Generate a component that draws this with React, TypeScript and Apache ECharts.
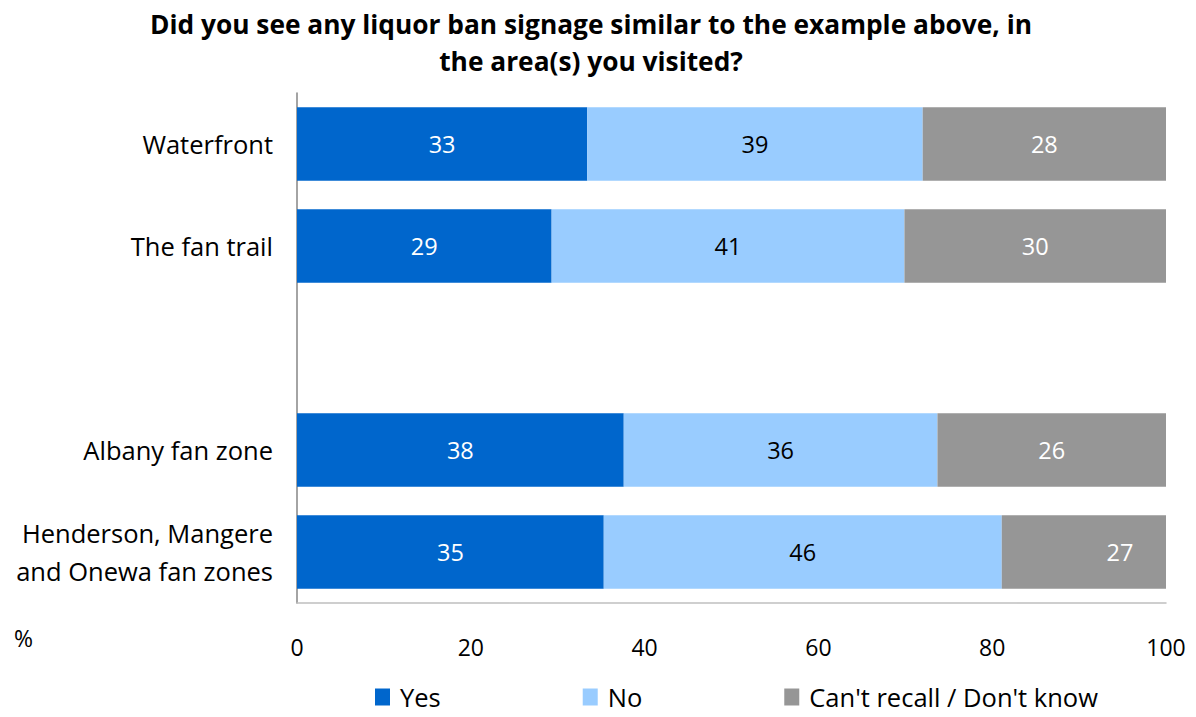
import React, { useEffect, useRef } from "react";
import * as echarts from "echarts";

const categories = [
  "Waterfront",
  "The fan trail",
  "",
  "Albany fan zone",
  "Henderson, Mangere\nand Onewa fan zones",
];
const seriesNames = ["Yes", "No", "Can't recall / Don't know"];
const yesValues: (number | null)[] = [33.4, 29.3, null, 37.6, 35.3];
const noValues: (number | null)[] = [38.6, 40.6, null, 36.1, 45.8];
const dkValues: (number | null)[] = [28.0, 30.1, null, 26.3, 27.0];
const xTickMin = 0;
const xTickMax = 100;
const xTickStep = 20;
const titleText =
  "Did you see any liquor ban signage similar to the example above, in\nthe area(s) you visited?";
const unitLabel = "%";

const FONT = "'Open Sans', sans-serif";
const colors = ["#0066CC", "#99CCFF", "#969696"];
const labelColors = ["#FFFFFF", "#000000", "#FFFFFF"];

export default function App() {
  const ref = useRef<HTMLDivElement>(null);
  useEffect(() => {
    if (!ref.current) return;
    const chart = echarts.init(ref.current, null, { renderer: "svg" });
    const toData = (arr: (number | null)[]) => arr.map((v) => (v == null ? "-" : v));
    const dkData: any[] = toData(dkValues).map((v, i) =>
      i === 4 ? { value: v, label: { offset: [36, 0] } } : v
    );
    const allData = [toData(yesValues), toData(noValues), dkData];
    const series = seriesNames.map((name, i) => ({
      name,
      type: "bar",
      stack: "total",
      barWidth: "72%",
      clip: true,
      data: allData[i],
      itemStyle: { color: colors[i] },
      label: {
        show: true,
        position: "inside",
        color: labelColors[i],
        fontFamily: FONT,
        fontSize: 23.5,
        formatter: (p: any) => String(Math.round(p.value)),
      },
    }));
    chart.setOption({
      animation: false,
      textStyle: { fontFamily: FONT },
      grid: { left: 297, right: 30, top: 93, bottom: 114, containLabel: false },
      xAxis: {
        type: "value",
        min: xTickMin,
        max: xTickMax,
        interval: xTickStep,
        axisLine: { show: true, lineStyle: { color: "#BFBFBF", width: 1.5 } },
        axisTick: { show: false },
        splitLine: { show: false },
        axisLabel: { color: "#000", fontSize: 23, fontFamily: FONT, margin: 32 },
      },
      yAxis: {
        type: "category",
        data: categories,
        inverse: true,
        axisLine: { show: true, lineStyle: { color: "#868686", width: 1.5 } },
        axisTick: { show: false },
        axisLabel: {
          color: "#000",
          fontSize: 25.5,
          fontFamily: FONT,
          margin: 24,
          lineHeight: 38,
          align: "right",
        },
      },
      legend: {
        left: 370,
        top: 679,
        itemWidth: 15,
        itemHeight: 17,
        itemGap: 142,
        icon: "rect",
        textStyle: { fontSize: 25.5, fontFamily: FONT, color: "#000", padding: [0, 0, 0, 5] },
        data: seriesNames,
      },
      graphic: [
        {
          type: "text",
          x: 591,
          y: 5,
          style: {
            text: titleText,
            font: `bold 26.3px ${FONT}`,
            fill: "#000",
            textAlign: "center",
            lineHeight: 37,
          },
        },
        {
          type: "text",
          x: 14,
          y: 626,
          style: { text: unitLabel, font: `23px ${FONT}`, fill: "#000" },
        },
      ],
      series,
    });
    return () => chart.dispose();
  }, []);
  return <div ref={ref} style={{ width: 1196, height: 717, margin: -8 }} />;
}
